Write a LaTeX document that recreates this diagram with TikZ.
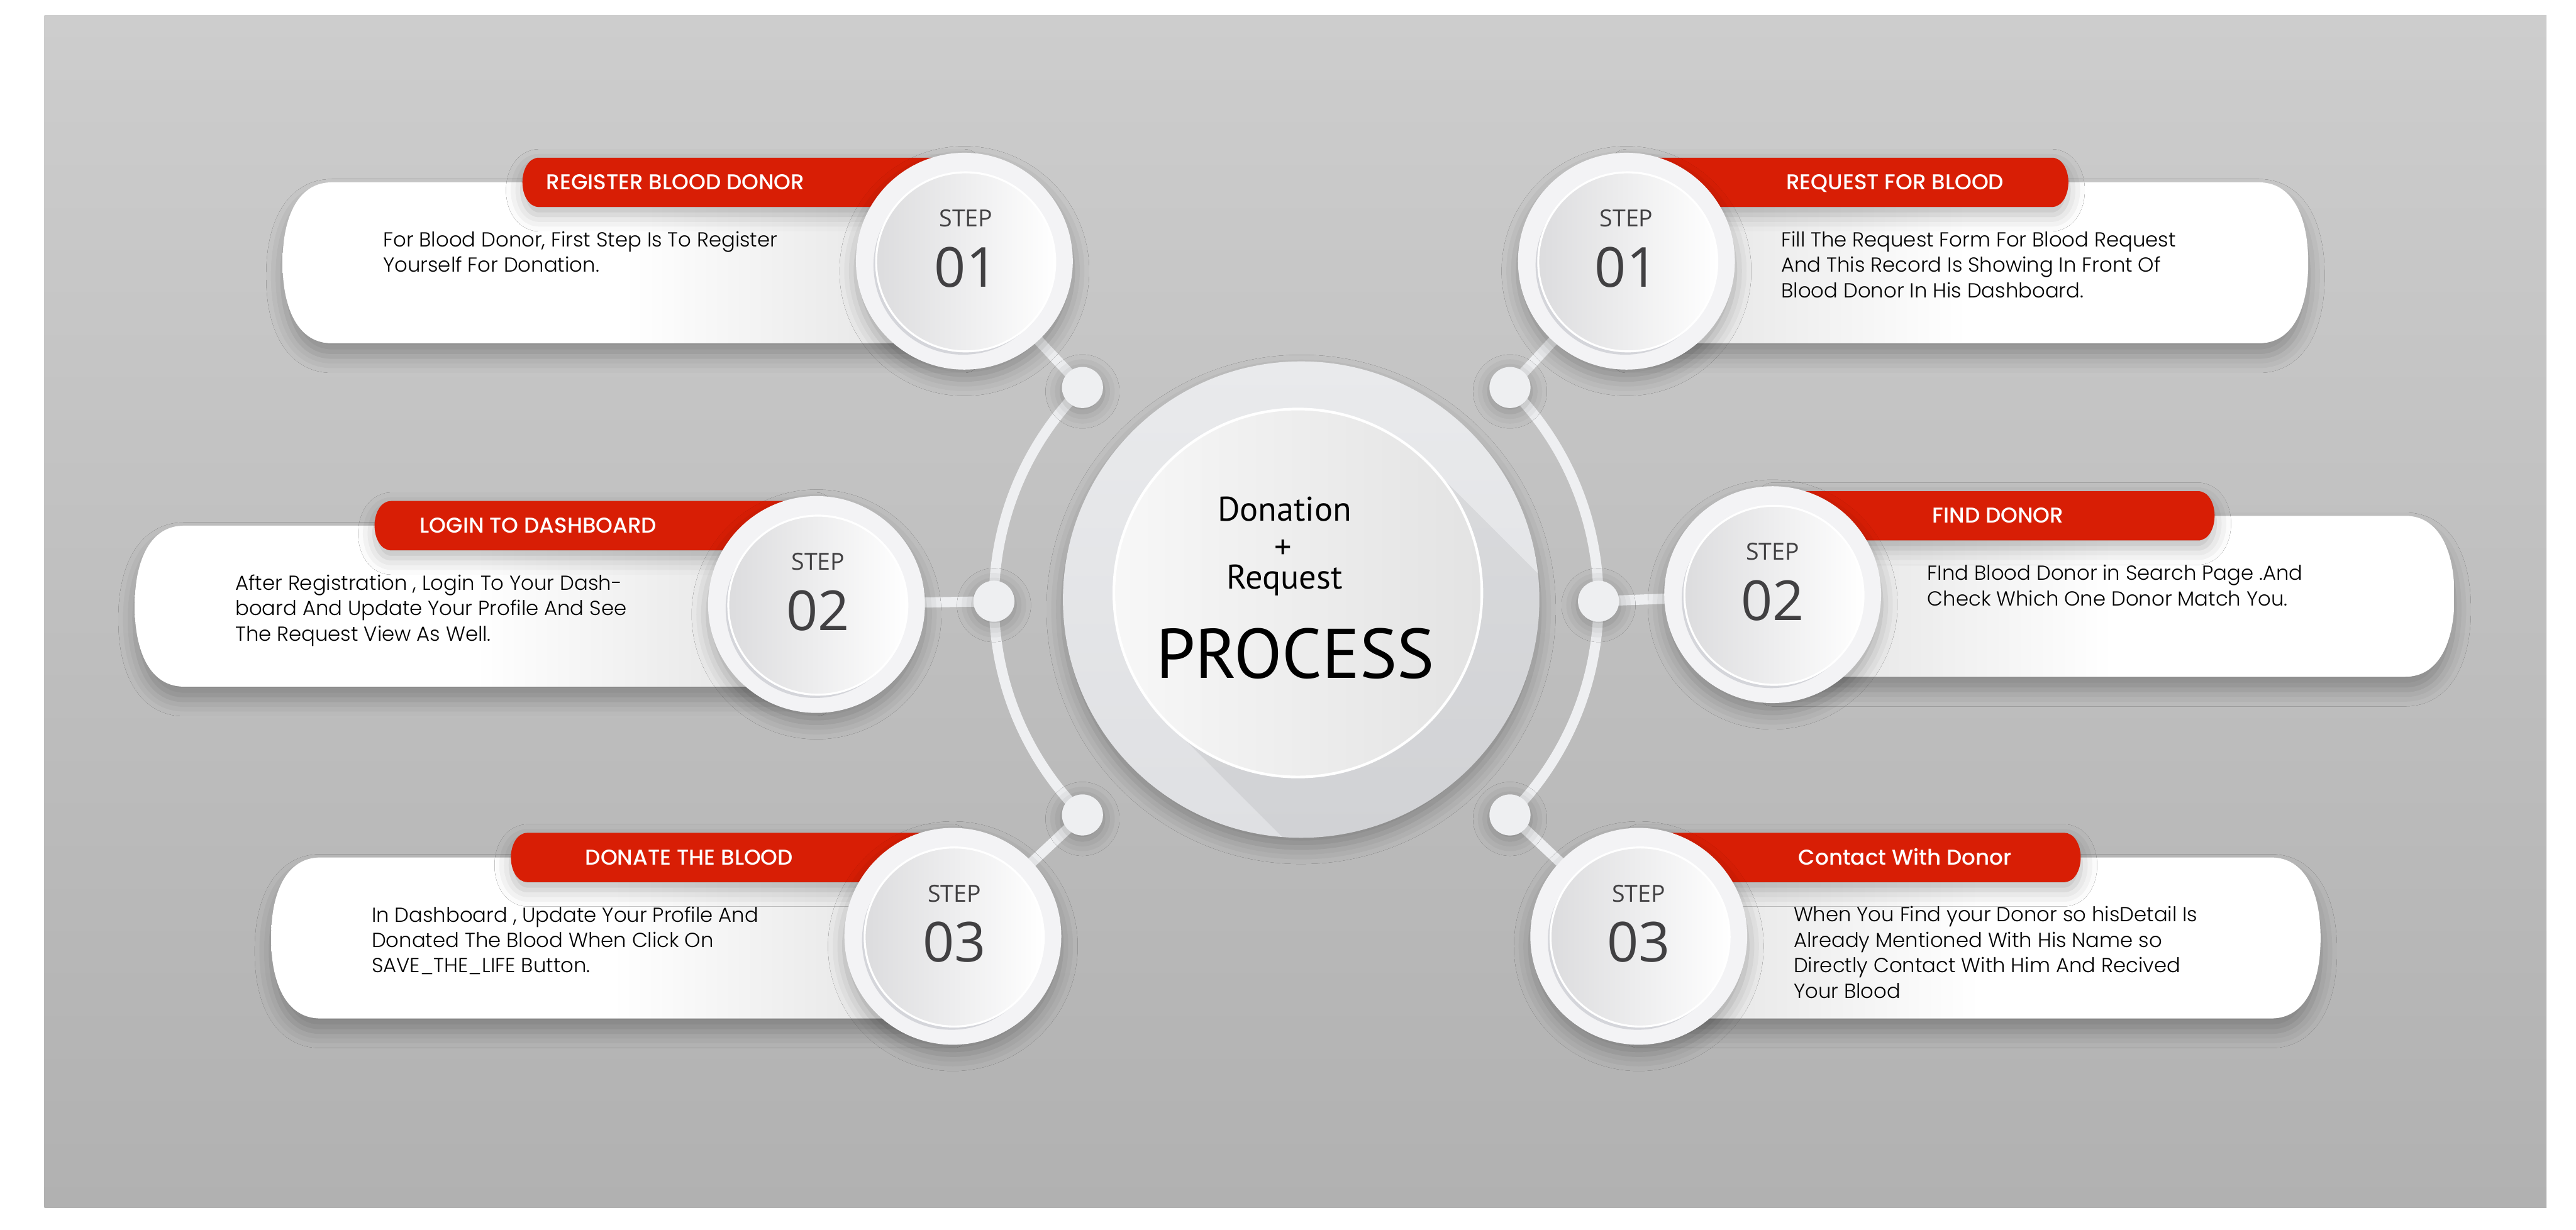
\documentclass[tikz,border=0pt]{standalone}
\usepackage{fontspec}
\usetikzlibrary{calc,shadows.blur}
\newfontfamily\cardfont{Poppins Light}
\newfontfamily\tabfont{Poppins Medium}
\newfontfamily\stepfont{Open Sans}
\newfontfamily\hubfont{PT Sans}
\definecolor{bloodred}{HTML}{D81E05}
\definecolor{ink}{HTML}{414042}
\definecolor{paneltop}{HTML}{CDCDCD}
\definecolor{panelbot}{HTML}{B1B1B1}
\definecolor{railwhite}{HTML}{EEEFF1}
\definecolor{ringface}{HTML}{F3F3F5}
\definecolor{rimgray}{HTML}{D4D5DA}
\definecolor{coregray}{HTML}{DCDCDE}
\definecolor{cardgray}{HTML}{E0E0E0}
\definecolor{hubtop}{HTML}{E9EAEC}
\definecolor{hubbot}{HTML}{DFE0E3}
\tikzset{softshadow/.style={blur shadow={shadow xshift=0mm,shadow yshift=-#1,shadow blur radius=2.5mm,shadow opacity=28}},
  rail/.style={draw=railwhite,line width=1.55mm},
  dot/.style={circle,fill=railwhite,minimum size=6.25mm,inner sep=0pt,softshadow=0.6mm},
  hubdisk/.style={circle,minimum size=72.5mm,inner sep=0pt,top color=hubtop,bottom color=hubbot,softshadow=1.5mm},
  hubcore/.style={circle,minimum size=56mm,inner sep=0pt,left color=white!97!black,right color=black!11,draw=white,line width=0.4mm},
  hubtext/.style={font=\hubfont\fontsize{14.8}{17}\selectfont,inner sep=0pt,anchor=base},
  hubtitle/.style={font=\hubfont\fontsize{30.4}{34}\selectfont,inner sep=0pt,anchor=base},
  stepring/.style={circle,minimum size=33mm,inner sep=0pt,fill=ringface,softshadow=1.5mm},
  steprim/.style={circle,minimum size=27.25mm,inner sep=0pt,fill=rimgray},
  stepcore/.style={circle,minimum size=27.25mm,inner sep=0pt,left color=coregray,right color=white,draw=white,line width=0.3mm},
  steplabel/.style={font=\stepfont\fontsize{10.2}{12}\selectfont,text=ink,inner sep=0pt,anchor=base},
  stepnumber/.style={font=\stepfont\fontsize{23.9}{28}\selectfont,text=ink,inner sep=0pt,anchor=base},
  tabtext/.style={font=\tabfont\fontsize{9.3}{11}\selectfont,text=white,inner sep=0pt},
  cardtext/.style={font=\cardfont\fontsize{8.8}{11}\selectfont,align=left,inner sep=0pt,anchor=north west},
  cardL/.pic={
    \path[left color=white,right color=cardgray,middle color=white,softshadow=2mm]
      (0,-48) -- (-385,-48) .. controls (-405,-48) and (-415,-28) .. (-415,1)
      .. controls (-415,30) and (-405,50) .. (-385,50) -- (0,50) -- cycle;
    \fill[bloodred,softshadow=1.2mm] (0,-63) -- (-259,-63) .. controls (-265,-63) and (-269,-56) .. (-269,-48)
      .. controls (-269,-40) and (-265,-33) .. (-259,-33) -- (0,-33) -- cycle;
  },
  cardR/.pic={
    \path[left color=cardgray,right color=white,middle color=white,softshadow=2mm]
      (0,-48) -- (385,-48) .. controls (405,-48) and (415,-28) .. (415,1)
      .. controls (415,30) and (405,50) .. (385,50) -- (0,50) -- cycle;
    \fill[bloodred,softshadow=1.2mm] (0,-63) -- (259,-63) .. controls (265,-63) and (269,-56) .. (269,-48)
      .. controls (269,-40) and (265,-33) .. (259,-33) -- (0,-33) -- cycle;
  }}

\begin{document}
\begin{tikzpicture}[x=0.25mm,y=-0.25mm]
\useasboundingbox (0,0) rectangle (1568,748.75);
\fill[white] (0,0) rectangle (1568,748.75);
\fill[top color=paneltop,bottom color=panelbot] (27,9.5) rectangle (1550,735);

% rail joints and step centres
\coordinate (cen) at (789,366);
\coordinate (ml1) at ($(cen)+(225:184)$);
\coordinate (ml2) at ($(cen)+(180:184)$);
\coordinate (ml3) at ($(cen)+(135:184)$);
\coordinate (mr1) at ($(cen)+(-45:184)$);
\coordinate (mr2) at ($(cen)+(0:184)$);
\coordinate (mr3) at ($(cen)+(45:184)$);
\coordinate (ol1) at (587,159);
\coordinate (ol2) at (497,368);
\coordinate (ol3) at (580,570);
\coordinate (or1) at (990,159);
\coordinate (or2) at (1079,362);
\coordinate (or3) at (997.5,570);

% rails
\draw[rail] (ml1) arc[start angle=225,end angle=135,radius=184];
\draw[rail] (mr1) arc[start angle=-45,end angle=45,radius=184];
\draw[rail] (ml1) -- (ol1);
\draw[rail] (ml2) -- (ol2);
\draw[rail] (ml3) -- (ol3);
\draw[rail] (mr1) -- (or1);
\draw[rail] (mr2) -- (or2);
\draw[rail] (mr3) -- (or3);

% centre disc
\node[hubdisk] (hub) at (792,365) {};
\begin{scope}
\clip (hub.center) circle[radius=36.25mm];
\fill[black,opacity=.06] (869,282) -- (1169,582) -- (1011,740) -- (711,440) -- cycle;
\end{scope}
\node[hubcore] (core) at (790,361) {};
\node[hubtext] (don) at (782,317) {Donation};
\node[hubtext] (plus) at (781,340) {+};
\node[hubtext] (req) at (782,358.6) {Request};
\node[hubtitle] (proc) at (788.5,412.8) {PROCESS};

\node[dot] (dl1) at (ml1) {};
\node[dot] (dl2) at (ml2) {};
\node[dot] (dl3) at (ml3) {};
\node[dot] (dr1) at (mr1) {};
\node[dot] (dr2) at (mr2) {};
\node[dot] (dr3) at (mr3) {};

% left steps
\pic at (ol1) {cardL};
\node[stepring] (sl1) at (ol1) {};
\node[steprim] (rl1) at ([xshift=-0.2mm,yshift=-0.6mm]sl1.center) {};
\node[stepcore] (cl1) at ([xshift=0.2mm,yshift=-0.1mm]sl1.center) {};
\node[steplabel] (tl1) at ([xshift=0.25mm,yshift=5.25mm]sl1.center) {STEP};
\node[stepnumber] (nl1) at ([xshift=0.25mm,yshift=-3.9mm]sl1.center) {01};
\node[tabtext,anchor=base east] (hl1) at ([xshift=-24.25mm,yshift=10.9mm]sl1.center) {REGISTER BLOOD DONOR};
\node[cardtext] (bl1) at ([xshift=-88.5mm,yshift=4.6mm]sl1.center) {For Blood Donor, First Step Is To Register\\Yourself For Donation.};

\pic at (ol2) {cardL};
\node[stepring] (sl2) at (ol2) {};
\node[steprim] (rl2) at ([xshift=-0.2mm,yshift=-0.6mm]sl2.center) {};
\node[stepcore] (cl2) at ([xshift=0.2mm,yshift=-0.1mm]sl2.center) {};
\node[steplabel] (tl2) at ([xshift=0.25mm,yshift=5.25mm]sl2.center) {STEP};
\node[stepnumber] (nl2) at ([xshift=0.25mm,yshift=-3.9mm]sl2.center) {02};
\node[tabtext,anchor=base east] (hl2) at ([xshift=-24.25mm,yshift=10.9mm]sl2.center) {LOGIN TO DASHBOARD};
\node[cardtext] (bl2) at ([xshift=-88.5mm,yshift=4.6mm]sl2.center) {After Registration , Login To Your Dash-\\board And Update Your Profile And See\\The Request View As Well.};

\pic at (ol3) {cardL};
\node[stepring] (sl3) at (ol3) {};
\node[steprim] (rl3) at ([xshift=-0.2mm,yshift=-0.6mm]sl3.center) {};
\node[stepcore] (cl3) at ([xshift=0.2mm,yshift=-0.1mm]sl3.center) {};
\node[steplabel] (tl3) at ([xshift=0.25mm,yshift=5.25mm]sl3.center) {STEP};
\node[stepnumber] (nl3) at ([xshift=0.25mm,yshift=-3.9mm]sl3.center) {03};
\node[tabtext,anchor=base east] (hl3) at ([xshift=-24.25mm,yshift=10.9mm]sl3.center) {DONATE THE BLOOD};
\node[cardtext] (bl3) at ([xshift=-88.5mm,yshift=4.6mm]sl3.center) {In Dashboard , Update Your Profile And\\Donated The Blood When Click On\\SAVE\_THE\_LIFE Button.};

% right steps
\pic at (or1) {cardR};
\node[stepring] (sr1) at (or1) {};
\node[steprim] (rr1) at ([xshift=-0.2mm,yshift=-0.6mm]sr1.center) {};
\node[stepcore] (cr1) at ([xshift=0.2mm,yshift=-0.1mm]sr1.center) {};
\node[steplabel] (tr1) at ([yshift=5.25mm]sr1.center) {STEP};
\node[stepnumber] (nr1) at ([yshift=-3.9mm]sr1.center) {01};
\node[tabtext,anchor=base west] (hr1) at ([xshift=24.25mm,yshift=10.9mm]sr1.center) {REQUEST FOR BLOOD};
\node[cardtext] (br1) at ([xshift=23.5mm,yshift=4.6mm]sr1.center) {Fill The Request Form For Blood Request\\And This Record Is Showing In Front Of\\Blood Donor In His Dashboard.};

\pic at (or2) {cardR};
\node[stepring] (sr2) at (or2) {};
\node[steprim] (rr2) at ([xshift=-0.2mm,yshift=-0.6mm]sr2.center) {};
\node[stepcore] (cr2) at ([xshift=0.2mm,yshift=-0.1mm]sr2.center) {};
\node[steplabel] (tr2) at ([yshift=5.25mm]sr2.center) {STEP};
\node[stepnumber] (nr2) at ([yshift=-3.9mm]sr2.center) {02};
\node[tabtext,anchor=base west] (hr2) at ([xshift=24.25mm,yshift=10.9mm]sr2.center) {FIND DONOR};
\node[cardtext] (br2) at ([xshift=23.5mm,yshift=4.6mm]sr2.center) {FInd Blood Donor in Search Page .And\\Check Which One Donor Match You.};

\pic at (or3) {cardR};
\node[stepring] (sr3) at (or3) {};
\node[steprim] (rr3) at ([xshift=-0.2mm,yshift=-0.6mm]sr3.center) {};
\node[stepcore] (cr3) at ([xshift=0.2mm,yshift=-0.1mm]sr3.center) {};
\node[steplabel] (tr3) at ([yshift=5.25mm]sr3.center) {STEP};
\node[stepnumber] (nr3) at ([yshift=-3.9mm]sr3.center) {03};
\node[tabtext,anchor=base west] (hr3) at ([xshift=24.25mm,yshift=10.9mm]sr3.center) {Contact With Donor};
\node[cardtext] (br3) at ([xshift=23.5mm,yshift=4.6mm]sr3.center) {When You Find your Donor so hisDetail Is\\Already Mentioned With His Name so\\Directly Contact With Him And Recived\\Your Blood};
\end{tikzpicture}
\end{document}
